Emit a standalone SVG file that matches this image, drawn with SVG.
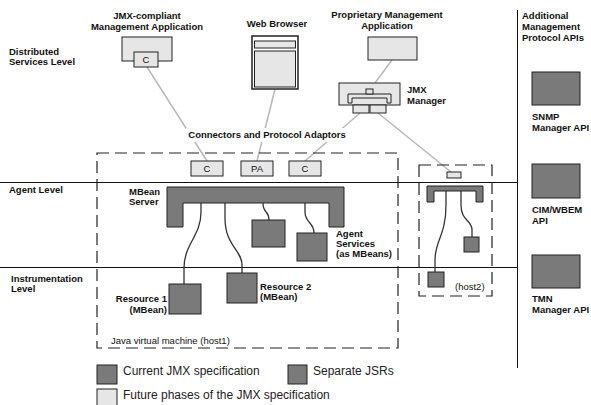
<svg xmlns="http://www.w3.org/2000/svg" width="591" height="405" viewBox="0 0 591 405">
<style>
text{font-family:"Liberation Sans",Arial,sans-serif;fill:#111}
.b{font-weight:bold;font-size:9.5px}
.n{font-size:9.5px}
.lg{font-size:12px;fill:#222}
.dk{fill:#7a7a7a;stroke:#222;stroke-width:1}
.lt{fill:#e6e6e6;stroke:#222;stroke-width:1}
.rule{stroke:#111;stroke-width:1;fill:none}
.dash{fill:none;stroke:#222;stroke-width:1.2;stroke-dasharray:12 6}
.con{stroke:#b8b8b8;stroke-width:1.5;fill:none}
.wire{stroke:#333;stroke-width:1.3;fill:none}
</style>
<rect width="591" height="405" fill="#fff"/>

<g id="levels">
<line class="rule" x1="0" y1="182.5" x2="517" y2="182.5"/>
<line class="rule" x1="0" y1="267.5" x2="517" y2="267.5"/>
<line class="rule" x1="517.5" y1="10" x2="517.5" y2="368"/>
<text class="b" x="9" y="55">Distributed</text>
<text class="b" x="9" y="65">Services Level</text>
<text class="b" x="9" y="193">Agent Level</text>
<text class="b" x="11" y="282">Instrumentation</text>
<text class="b" x="11" y="292">Level</text>
</g>

<g id="connectors">
<line class="con" x1="147" y1="67" x2="207" y2="161"/>
<line class="con" x1="275" y1="89" x2="257" y2="161"/>
<line class="con" x1="360" y1="113" x2="305" y2="161"/>
<line class="con" x1="378" y1="113" x2="451" y2="172"/>
<line class="con" x1="392" y1="60" x2="375" y2="83"/>
<rect x="186" y="128" width="162" height="14" fill="#fff"/>
<text class="b" x="267" y="138" text-anchor="middle">Connectors and Protocol Adaptors</text>
<path class="wire" d="M201,203 V212 C201,236 184,244 184,268 V284"/>
<path class="wire" d="M225,203 V218 C225,246 242,250 242,265 V273"/>
<path class="wire" d="M263,203 C263,214 269,210 269,220"/>
<path class="wire" d="M305,203 V212 C305,223 314,222 314,233"/>
<path class="wire" d="M446,191 V205 C446,236 435,240 435,260 V272"/>
<path class="wire" d="M461,191 V205 C461,221 472,220 472,230 V237"/>
</g>

<g id="jmx-compliant-app">
<text class="b" x="147" y="19" text-anchor="middle">JMX-compliant</text>
<text class="b" x="147" y="30" text-anchor="middle">Management Application</text>
<rect class="lt" x="122" y="37" width="50" height="24"/>
<rect class="lt" x="134" y="52" width="24" height="15"/>
<text class="n" x="146" y="63" text-anchor="middle">C</text>
</g>

<g id="web-browser">
<text class="b" x="277" y="27" text-anchor="middle">Web Browser</text>
<rect x="252" y="36" width="46" height="53" fill="#fff" stroke="#222" stroke-width="1.5"/>
<rect class="lt" x="254.5" y="41" width="41" height="7"/>
<rect class="lt" x="254.5" y="51" width="41" height="36"/>
</g>

<g id="proprietary-app">
<text class="b" x="387" y="18" text-anchor="middle">Proprietary Management</text>
<text class="b" x="387" y="29" text-anchor="middle">Application</text>
<rect class="lt" x="368" y="37" width="49" height="23"/>
</g>

<g id="jmx-manager">
<rect class="lt" x="339" y="83" width="61" height="22"/>
<path class="lt" d="M348,94 H391 V103 H387 V98 H352 V103 H348 Z"/>
<rect class="lt" x="366" y="89" width="7" height="5"/>
<rect class="lt" x="353" y="105" width="16" height="8"/>
<rect class="lt" x="370" y="105" width="16" height="8"/>
<text class="b" x="407" y="93">JMX</text>
<text class="b" x="407" y="104">Manager</text>
</g>

<g id="host1">
<rect class="dash" x="97" y="153" width="301" height="195"/>
<text class="n" x="111" y="344">Java virtual machine (host1)</text>
</g>

<g id="adaptor-c1">
<rect class="lt" x="191" y="161" width="32" height="15"/>
<text class="n" x="207" y="172" text-anchor="middle">C</text>
</g>
<g id="adaptor-pa">
<rect class="lt" x="241" y="161" width="32" height="15"/>
<text class="n" x="257" y="172" text-anchor="middle">PA</text>
</g>
<g id="adaptor-c2">
<rect class="lt" x="289" y="161" width="32" height="15"/>
<text class="n" x="305" y="172" text-anchor="middle">C</text>
</g>

<g id="mbean-server">
<path class="dk" d="M167,187 H344 V227 H329 V203 H183 V227 H167 Z"/>
<text class="b" x="129" y="195">MBean</text>
<text class="b" x="129" y="205">Server</text>
</g>

<g id="agent-service-1">
<rect class="dk" x="252" y="220" width="33" height="27"/>
</g>
<g id="agent-service-2">
<rect class="dk" x="297" y="233" width="30" height="28"/>
<text class="b" x="336" y="237">Agent</text>
<text class="b" x="336" y="247">Services</text>
<text class="b" x="336" y="257">(as MBeans)</text>
</g>

<g id="resource-1">
<rect class="dk" x="169" y="284" width="32" height="30"/>
<text class="b" x="167" y="302" text-anchor="end">Resource 1</text>
<text class="b" x="167" y="313" text-anchor="end">(MBean)</text>
</g>
<g id="resource-2">
<rect class="dk" x="227" y="273" width="30" height="30"/>
<text class="b" x="260" y="290">Resource 2</text>
<text class="b" x="260" y="300">(MBean)</text>
</g>

<g id="host2">
<rect class="dash" x="419" y="165" width="73" height="131"/>
<rect class="lt" x="447" y="172" width="14" height="6"/>
<path class="dk" d="M427,186 H483 V202 H476 V191 H434 V202 H427 Z"/>
<rect class="dk" x="464" y="237" width="15" height="15"/>
<rect class="dk" x="428" y="272" width="16" height="15"/>
<text class="n" x="455" y="290">(host2)</text>
</g>

<g id="additional-apis">
<text class="b" x="522" y="19">Additional</text>
<text class="b" x="522" y="30">Management</text>
<text class="b" x="522" y="41">Protocol APIs</text>
</g>
<g id="snmp-api">
<rect class="dk" x="532" y="72" width="48" height="33"/>
<text class="b" x="532" y="120">SNMP</text>
<text class="b" x="532" y="131">Manager API</text>
</g>
<g id="cim-api">
<rect class="dk" x="532" y="164" width="48" height="34"/>
<text class="b" x="532" y="213">CIM/WBEM</text>
<text class="b" x="532" y="224">API</text>
</g>
<g id="tmn-api">
<rect class="dk" x="532" y="255" width="48" height="33"/>
<text class="b" x="532" y="302">TMN</text>
<text class="b" x="532" y="313">Manager API</text>
</g>

<g id="legend">
<rect class="dk" x="97" y="365" width="20" height="19"/>
<text class="lg" x="123" y="375">Current JMX specification</text>
<rect class="dk" x="288" y="365" width="19" height="19"/>
<text class="lg" x="313" y="375">Separate JSRs</text>
<rect class="lt" x="97" y="389" width="20" height="19"/>
<text class="lg" x="123" y="399">Future phases of the JMX specification</text>
</g>
</svg>
